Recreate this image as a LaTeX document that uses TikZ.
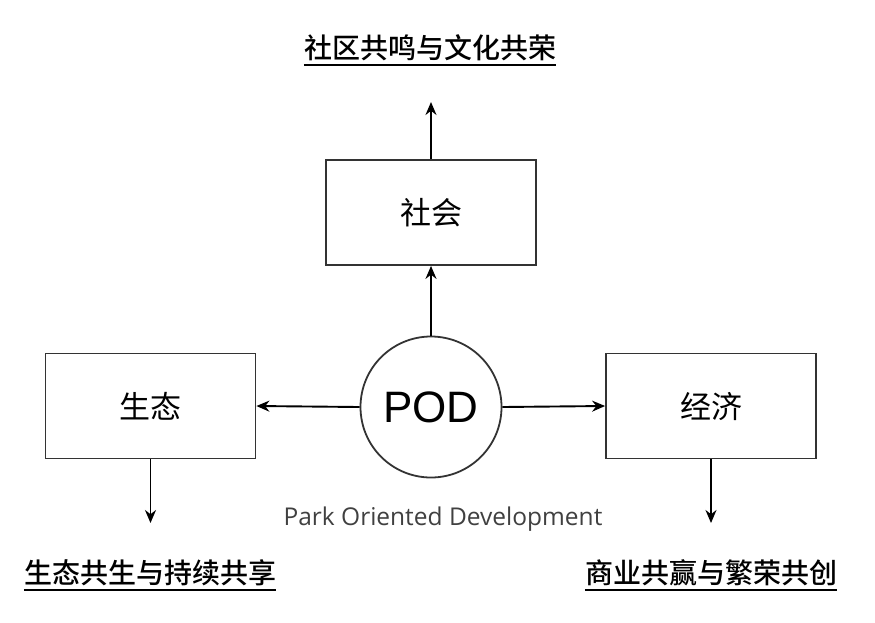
\documentclass[tikz,border=0pt]{standalone}
\usepackage{fontspec}
\setmainfont{Liberation Sans}
\newfontfamily\cjk{Noto Sans CJK SC}
\newfontfamily\cjkm{Noto Sans CJK SC Medium}
\newfontfamily\latinb{Open Sans}
\usetikzlibrary{arrows.meta}
\definecolor{ln}{HTML}{333333}
\definecolor{gtext}{HTML}{404040}
\tikzset{
  boxnode/.style={draw=ln, line width=1.8pt, minimum width=210pt, minimum height=105pt, inner sep=0pt, font=\cjk\fontsize{31}{31}\selectfont},
  podnode/.style={circle, draw=ln, line width=1.8pt, minimum size=141pt, inner sep=0pt, font=\fontsize{44}{44}\selectfont},
  titlenode/.style={inner sep=0pt, font=\cjkm\fontsize{28}{28}\selectfont},
  conn/.style={draw=black, line width=1.9pt, -{Stealth[length=13pt,width=11pt]}},
}
\begin{document}
\begin{tikzpicture}[x=1pt,y=-1pt]
\useasboundingbox (0,0) rectangle (875,622);
\node[podnode] (pod) at (431,407) {POD};
\node[boxnode] (soc) at (431,212.5) {社会};
\node[boxnode] (eco) at (150.5,406) {生态};
\node[boxnode] (econ) at (711,406) {经济};
\node[titlenode] (t1) at (430,48) {社区共鸣与文化共荣};
\node[titlenode] (t2) at (150,573) {生态共生与持续共享};
\node[titlenode] (t3) at (711,573) {商业共赢与繁荣共创};
\draw[line width=2pt] ([yshift=-4pt]t1.south west) coordinate (u1a) -- ([yshift=-4pt]t1.south east) coordinate (u1b);
\draw[line width=2pt] ([yshift=-4pt]t2.south west) coordinate (u2a) -- ([yshift=-4pt]t2.south east) coordinate (u2b);
\draw[line width=2pt] ([yshift=-4pt]t3.south west) coordinate (u3a) -- ([yshift=-4pt]t3.south east) coordinate (u3b);
\node[inner sep=0pt, text=gtext, font=\latinb\fontsize{24.5}{24.5}\selectfont] (pd) at (443,519) {Park Oriented Development};
\coordinate (a1) at (431,102);
\coordinate (a2) at (150.5,523);
\coordinate (a3) at (711,523);
\draw[conn] (soc.north) -- (a1);
\draw[conn] (pod.north) -- (soc.south);
\draw[conn] (pod.west) -- (eco.east);
\draw[conn] (pod.east) -- (econ.west);
\draw[conn] (eco.south) -- (a2);
\draw[conn] (econ.south) -- (a3);
\end{tikzpicture}
\end{document}
